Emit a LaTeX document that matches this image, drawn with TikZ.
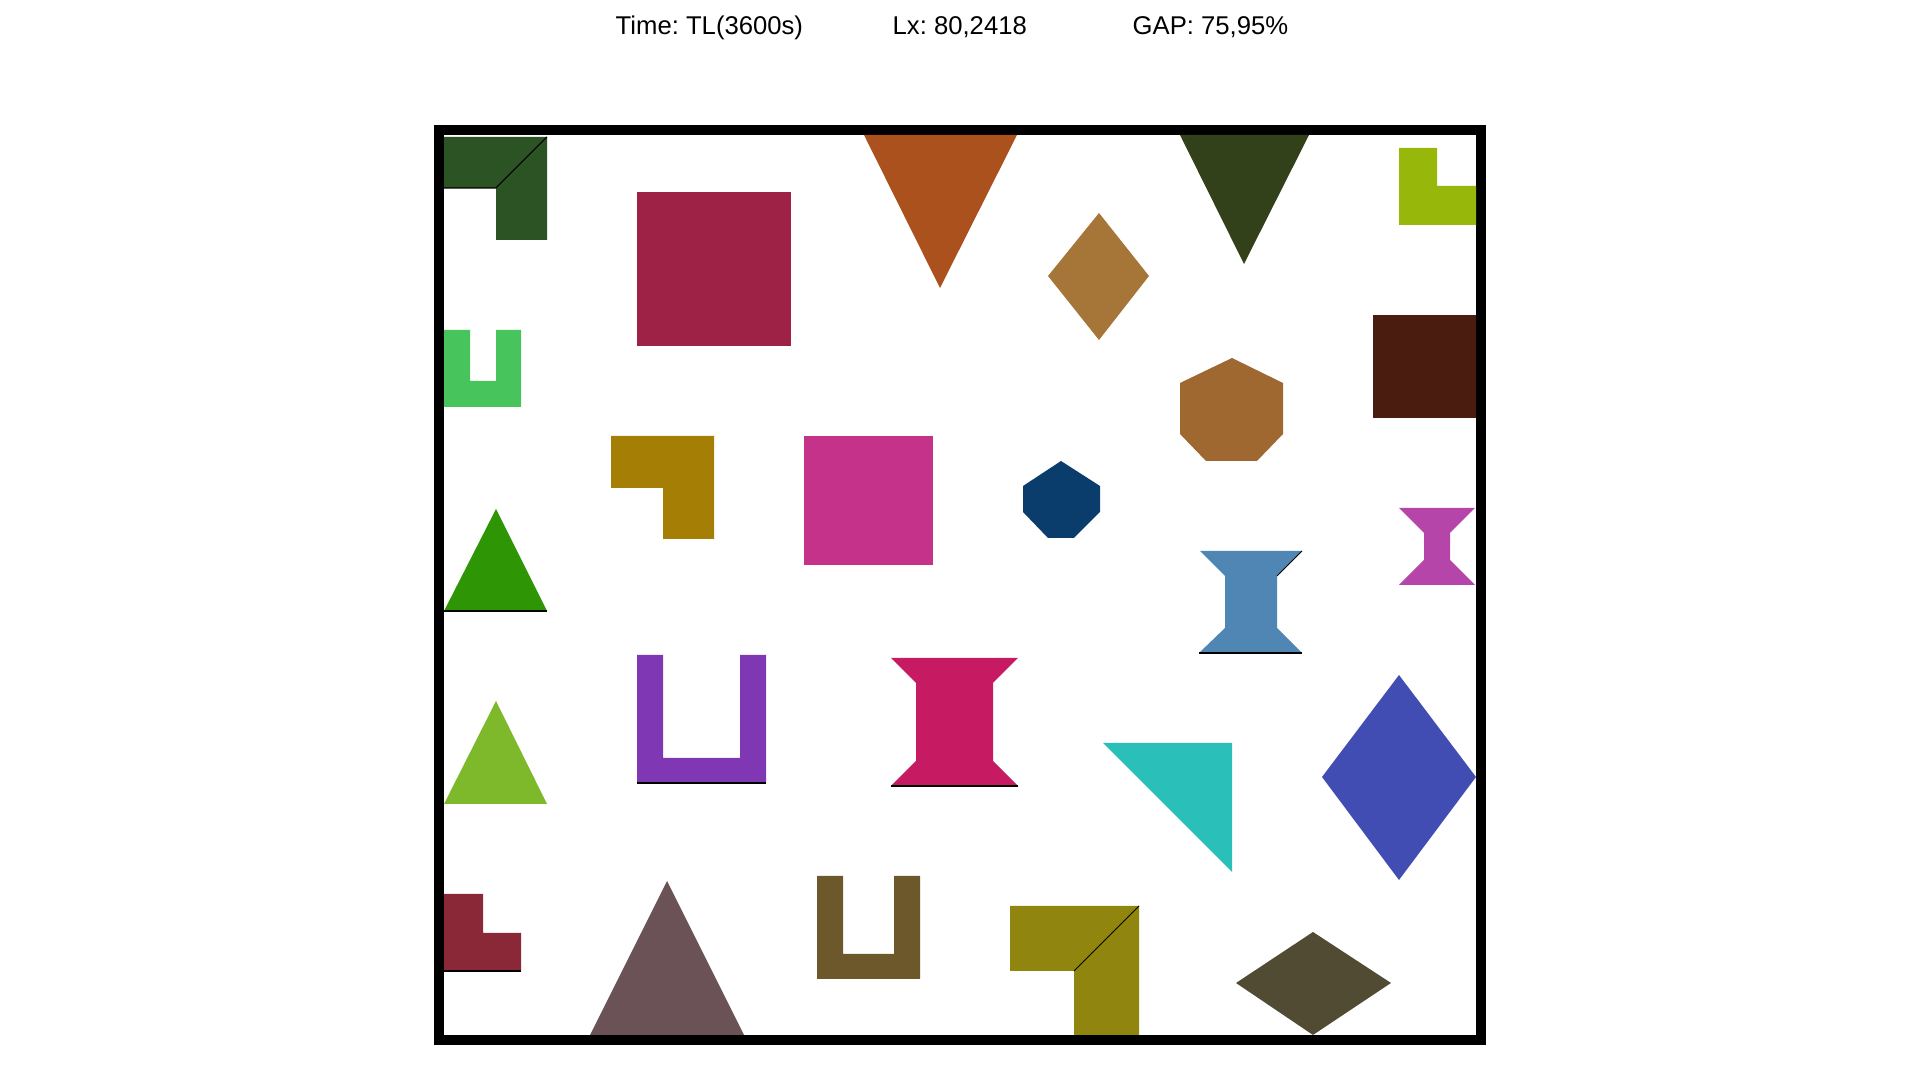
\documentclass[tikz,border=0pt]{standalone}
\usepackage{fontspec}
\setmainfont{Liberation Sans}
\usepackage{tikz}
\frenchspacing
\definecolor{cDarkGreen}{RGB}{43,83,35}
\definecolor{cGreenU}{RGB}{71,196,91}
\definecolor{cCrimsonSq}{RGB}{158,34,69}
\definecolor{cOrangeTri}{RGB}{171,81,30}
\definecolor{cTanDia}{RGB}{165,118,55}
\definecolor{cOliveTri}{RGB}{50,65,26}
\definecolor{cLimeL}{RGB}{152,183,11}
\definecolor{cBrownRect}{RGB}{74,28,15}
\definecolor{cBrownHept}{RGB}{158,104,48}
\definecolor{cOchreL}{RGB}{165,126,5}
\definecolor{cGreenTri}{RGB}{46,150,5}
\definecolor{cMagentaSq}{RGB}{197,50,138}
\definecolor{cNavyOct}{RGB}{10,61,108}
\definecolor{cSteelSpool}{RGB}{79,134,179}
\definecolor{cPurpleSpool}{RGB}{181,69,168}
\definecolor{cPurpleU}{RGB}{127,55,180}
\definecolor{cLightTri}{RGB}{125,185,42}
\definecolor{cRedL}{RGB}{139,40,56}
\definecolor{cMauveTri}{RGB}{106,82,86}
\definecolor{cCrimsonSpool}{RGB}{198,27,98}
\definecolor{cOliveU}{RGB}{109,88,43}
\definecolor{cGoldL}{RGB}{144,133,15}
\definecolor{cTealTri}{RGB}{42,191,185}
\definecolor{cBlueDia}{RGB}{65,77,178}
\definecolor{cDarkDia}{RGB}{81,75,51}
\tikzset{
  piece/.style ={line width=0pt},
  seam/.style  ={draw=black,line width=0.3pt},
  board/.style ={draw=black,line width=0.1cm},
  stat/.style  ={font=\fontsize{7.3}{8}\selectfont,anchor=base west,inner sep=0pt},
}

\begin{document}
\begin{tikzpicture}[x=0.01cm, y=-0.01cm]
\useasboundingbox (0,0) rectangle (1920,1080);
%% header
\node[stat] (time) at (615,35)  {Time: TL(3600s)};
\node[stat] (lx)   at (892,35)  {Lx: 80,2418};
\node[stat] (gap)  at (1132,35) {GAP: 75,95\%};
%% container
\draw[board] (439,130) rectangle (1481,1040);
%% top row
\fill[piece,cDarkGreen] (444,137) -- (547,137) -- (547,240) -- (496,240)
      -- (496,188) -- (444,188) -- cycle;
\draw[seam] (444,188) -- (496,188) -- (547,137);
\fill[piece,cCrimsonSq] (637,192) rectangle (791,346);
\fill[piece,cOrangeTri] (864,135) -- (1017,135) -- (940,288) -- cycle;
\fill[piece,cTanDia] (1099,213) -- (1149,276) -- (1099,340) -- (1048,276) -- cycle;
\fill[piece,cOliveTri] (1180,135) -- (1309,135) -- (1244,264) -- cycle;
\fill[piece,cLimeL] (1399,148) -- (1437,148) -- (1437,186) -- (1476,186)
      -- (1476,225) -- (1399,225) -- cycle;
%% second row
\fill[piece,cGreenU] (444,330) -- (470,330) -- (470,381) -- (496,381)
      -- (496,330) -- (521,330) -- (521,407) -- (444,407) -- cycle;
\fill[piece,cBrownHept] (1232,358) -- (1283,383) -- (1283,434) -- (1257,461)
      -- (1206,461) -- (1180,434) -- (1180,383) -- cycle;
\fill[piece,cBrownRect] (1373,315) rectangle (1476,418);
\fill[piece,cOchreL] (611,436) -- (714,436) -- (714,539) -- (663,539)
      -- (663,488) -- (611,488) -- cycle;
\fill[piece,cMagentaSq] (804,436) rectangle (933,565);
\fill[piece,cNavyOct] (1061,461) -- (1100,486) -- (1100,512) -- (1074,538)
      -- (1048,538) -- (1023,512) -- (1023,486) -- cycle;
%% middle row
\fill[piece,cGreenTri] (496,509) -- (547,611) -- (444,611) -- cycle;
\draw[seam] (444,611) -- (547,611);
\fill[piece,cSteelSpool] (1200,551) -- (1302,551) -- (1277,576) -- (1277,628)
      -- (1302,653) -- (1199,653) -- (1225,628) -- (1225,576) -- cycle;
\draw[seam] (1199,653) -- (1302,653);
\draw[seam] (1277,576) -- (1302,551);
\fill[piece,cPurpleSpool] (1399,508) -- (1475,508) -- (1450,533) -- (1450,560)
      -- (1475,585) -- (1399,585) -- (1424,560) -- (1424,533) -- cycle;
\fill[piece,cPurpleU] (637,655) -- (663,655) -- (663,758) -- (740,758)
      -- (740,655) -- (766,655) -- (766,783) -- (637,783) -- cycle;
\draw[seam] (637,783) -- (766,783);
\fill[piece,cCrimsonSpool] (891,658) -- (1018,658) -- (993,683) -- (993,761)
      -- (1018,786) -- (891,786) -- (916,761) -- (916,683) -- cycle;
\draw[seam] (891,786) -- (1018,786);
\fill[piece,cTealTri] (1103,743) -- (1232,743) -- (1232,872) -- cycle;
\fill[piece,cBlueDia] (1399,675) -- (1476,777) -- (1399,880) -- (1322,777) -- cycle;
\fill[piece,cLightTri] (496,701) -- (547,804) -- (444,804) -- cycle;
%% bottom row
\fill[piece,cRedL] (444,894) -- (483,894) -- (483,933) -- (521,933)
      -- (521,971) -- (444,971) -- cycle;
\draw[seam] (444,971) -- (521,971);
\fill[piece,cMauveTri] (667,881) -- (744,1035) -- (590,1035) -- cycle;
\fill[piece,cOliveU] (817,876) -- (843,876) -- (843,954) -- (894,954)
      -- (894,876) -- (920,876) -- (920,979) -- (817,979) -- cycle;
\fill[piece,cGoldL] (1010,906) -- (1139,906) -- (1139,1035) -- (1074,1035)
      -- (1074,971) -- (1010,971) -- cycle;
\draw[seam] (1074,971) -- (1139,906);
\fill[piece,cDarkDia] (1313,932) -- (1391,983) -- (1313,1035) -- (1236,983) -- cycle;
\end{tikzpicture}
\end{document}
